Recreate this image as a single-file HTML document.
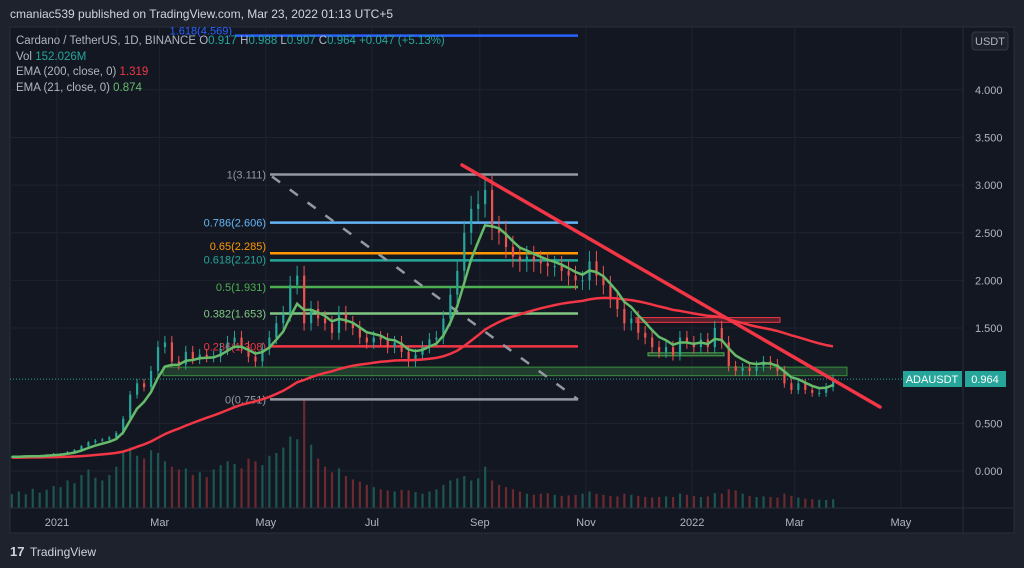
<!DOCTYPE html>
<html><head><meta charset="utf-8"><style>
html,body{margin:0;padding:0;background:#1e222d;}
svg{display:block;font-family:"Liberation Sans",sans-serif;}
</style></head><body>
<svg id="chart" width="1024" height="568" viewBox="0 0 1024 568" xmlns="http://www.w3.org/2000/svg">
<rect x="0" y="0" width="1024" height="568" fill="#1e222d"/>
<rect x="10" y="27" width="1004" height="506" fill="#131722" stroke="#2a2e39"/>
<text x="10" y="18" font-size="12" fill="#d1d4dc">cmaniac539 published on TradingView.com, Mar 23, 2022 01:13 UTC+5</text>
<defs><clipPath id="plotclip"><rect x="10" y="27" width="953" height="481"/></clipPath></defs>
<g id="grid"></g>
<g id="vol" clip-path="url(#plotclip)"></g>
<g id="draw1" clip-path="url(#plotclip)"></g>
<g id="candles" clip-path="url(#plotclip)"></g>
<g id="emas" clip-path="url(#plotclip)"></g>
<g id="draw2" clip-path="url(#plotclip)"></g>
<line x1="963" y1="27" x2="963" y2="533" stroke="#2a2e39"/>
<line x1="10" y1="508" x2="1014" y2="508" stroke="#2a2e39"/>
<g id="axes"></g>
<g font-size="11.5">
<text x="16" y="44" fill="#b2b5be">Cardano / TetherUS, 1D, BINANCE  O<tspan fill="#26a69a">0.917</tspan>  H<tspan fill="#26a69a">0.988</tspan>  L<tspan fill="#26a69a">0.907</tspan>  C<tspan fill="#26a69a">0.964</tspan>  <tspan fill="#26a69a">+0.047 (+5.13%)</tspan></text>
<text x="16" y="60" fill="#b2b5be">Vol  <tspan fill="#26a69a">152.026M</tspan></text>
<text x="16" y="75" fill="#b2b5be">EMA (200, close, 0)  <tspan fill="#f23645">1.319</tspan></text>
<text x="16" y="91" fill="#b2b5be">EMA (21, close, 0)  <tspan fill="#66bb6a">0.874</tspan></text>
</g>
<rect x="972" y="32" width="36" height="18" rx="3" fill="#1e222d" stroke="#363a45"/>
<text x="990" y="45" font-size="11" fill="#b2b5be" text-anchor="middle">USDT</text>
<rect x="903" y="371" width="59" height="16" fill="#26a69a"/>
<text x="932" y="383" font-size="11" fill="#fff" text-anchor="middle">ADAUSDT</text>
<rect x="965" y="371" width="41" height="16" fill="#26a69a"/>
<text x="985" y="383" font-size="11" fill="#fff" text-anchor="middle">0.964</text>
<g>
<text x="10" y="556" font-size="13" font-weight="bold" fill="#d1d4dc">17</text>
<text x="30" y="556" font-size="12" fill="#d1d4dc">TradingView</text>
</g>
</svg>
<script>
const closes=[0.15,0.15,0.16,0.16,0.16,0.17,0.18,0.18,0.20,0.22,0.26,0.30,0.32,0.33,0.35,0.40,0.55,0.80,0.92,0.88,1.05,1.30,1.35,1.15,1.12,1.25,1.18,1.22,1.20,1.20,1.28,1.35,1.40,1.30,1.20,1.15,1.28,1.40,1.55,1.65,1.95,2.05,1.55,1.70,1.60,1.55,1.45,1.65,1.55,1.50,1.40,1.35,1.40,1.38,1.30,1.35,1.25,1.15,1.22,1.30,1.38,1.40,1.60,1.85,2.10,2.50,2.75,2.80,2.95,2.55,2.50,2.35,2.25,2.20,2.25,2.20,2.18,2.15,2.15,2.10,2.05,2.00,2.00,2.20,2.05,1.95,1.80,1.70,1.55,1.60,1.45,1.40,1.30,1.25,1.30,1.22,1.40,1.35,1.30,1.38,1.30,1.50,1.35,1.10,1.05,1.08,1.05,1.10,1.15,1.12,1.05,0.92,0.85,0.92,0.85,0.82,0.82,0.88,0.964];
const volumes=[250,300,250,350,280,330,400,380,500,450,600,700,550,500,600,750,1000,1100,950,900,1050,1000,850,750,700,720,600,650,560,700,780,850,800,720,900,850,780,950,1000,1100,1300,1250,2000,1150,900,750,650,720,580,520,480,420,380,340,320,300,330,320,290,260,300,340,420,500,540,580,500,540,750,500,420,380,340,300,260,240,260,270,240,220,230,240,260,300,260,240,220,210,260,240,220,200,190,200,210,200,260,240,220,200,210,270,260,340,320,260,220,200,210,200,190,260,220,190,170,160,150,145,160];
const yTicks=[0,0.5,1.5,2,2.5,3,3.5,4];
const yTickLabels=["0.000","0.500","1.500","2.000","2.500","3.000","3.500","4.000"];
const monthDays=[0,59,120,181,243,304,365,424,485];
const monthLabels=["2021","Mar","May","Jul","Sep","Nov","2022","Mar","May"];
const fibPrices=[3.111,2.606,2.285,2.210,1.931,1.653,1.308,0.751];
const fibLabels=["1(3.111)","0.786(2.606)","0.65(2.285)","0.618(2.210)","0.5(1.931)","0.382(1.653)","0.236(1.308)","0(0.751)"];
const fibColors=["#9598a1","#64b5f6","#ff9800","#26a69a","#4caf50","#81c784","#f23645","#9598a1"];
const startDay=-26, stepDays=4;

const NS="http://www.w3.org/2000/svg";
function X(day){return 57+day*1.74;}
function Y(p){return 471-p*95.3;}
function mk(parent,tag,attrs){const e=document.createElementNS(NS,tag);for(const k in attrs)e.setAttribute(k,attrs[k]);document.getElementById(parent).appendChild(e);return e;}

yTicks.forEach((p,i)=>{
  const g=mk('grid','line',{x1:10,x2:963,y1:Y(p),y2:Y(p),stroke:'#1f2330'});
  
  
  const t=mk('axes','text',{x:975,y:Y(p)+4,'font-size':11,fill:'#b2b5be'});
  
  
  t.textContent=yTickLabels[i];
});
monthDays.forEach((d,i)=>{
  const g=mk('grid','line',{x1:X(d),x2:X(d),y1:27,y2:508,stroke:'#1f2330'});
  
  
  const t=mk('axes','text',{x:X(d),y:526,'font-size':11,fill:'#b2b5be','text-anchor':'middle'});
  
  
  t.textContent=monthLabels[i];
});

const vmax=Math.max(...volumes);
volumes.forEach((v,i)=>{
  const up=i===0||closes[i]>=closes[i-1];
  const h=v/vmax*110;
  const r=mk('vol','rect',{x:X(startDay+i*stepDays)-1,y:508-h,width:2.2,height:h,fill:up?'#1d5550':'#6b2a2f'});
  
  
});

const bz=mk('draw1','rect',{x:163,y:Y(1.09),width:684,height:Y(1.0)-Y(1.09),fill:'rgba(76,175,80,0.25)',stroke:'#388e3c'});


const rz=mk('draw1','rect',{x:636,y:Y(1.61),width:144,height:Y(1.56)-Y(1.61),fill:'rgba(242,54,69,0.3)',stroke:'#f23645'});


const gz=mk('draw1','rect',{x:648,y:Y(1.24),width:76,height:3,fill:'rgba(76,175,80,0.3)',stroke:'#4caf50'});


const dl=mk('draw1','line',{x1:10,x2:963,y1:Y(0.964),y2:Y(0.964),stroke:'#26a69a','stroke-dasharray':'1 2'});


fibPrices.forEach((p,i)=>{
  const l=mk('draw1','line',{x1:270,x2:578,y1:Y(p),y2:Y(p),stroke:fibColors[i],'stroke-width':2.5});
  
  
  const t=mk('draw1','text',{x:266,y:Y(p)+(i===2?-3:(i===3?3:4)),'font-size':11,fill:fibColors[i],'text-anchor':'end'});
  
  
  t.textContent=fibLabels[i];
});
const ext=mk('draw1','line',{x1:235,x2:578,y1:Y(4.569),y2:Y(4.569),stroke:'#2962ff','stroke-width':2.5});


const et=mk('draw1','text',{x:232,y:Y(4.569)-1,'font-size':11,fill:'#2962ff','text-anchor':'end'});


et.textContent='1.618(4.569)';
const fd=mk('draw1','line',{x1:272,y1:Y(3.111)+2,x2:578,y2:Y(0.751),stroke:'#9598a1','stroke-width':2.5,'stroke-dasharray':'10 12'});



closes.forEach((c,i)=>{
  const o=i===0?c:closes[i-1];
  const up=c>=o, col=up?'#26a69a':'#ef5350';
  const x=X(startDay+i*stepDays);
  const hi=Math.max(o,c)*1.05, lo=Math.min(o,c)*0.95;
  const w=mk('candles','line',{x1:x,x2:x,y1:Y(hi),y2:Y(lo),stroke:col,'stroke-width':1});
  
  
  const b=mk('candles','rect',{x:x-1,y:Y(Math.max(o,c)),width:2.2,height:Math.max(1,Math.abs(Y(o)-Y(c))),fill:col});
  
  
});

function ema(period,seed){const a=1-Math.pow(1-2/(period+1),stepDays);let e=seed;return closes.map(c=>{e=e+a*(c-e);return e;});}
const e200=ema(200,0.14), e21=ema(21,0.15);
function path(arr){return arr.map((v,i)=>(i?'L':'M')+X(startDay+i*stepDays).toFixed(1)+' '+Y(v).toFixed(1)).join(' ');}
const p200=mk('emas','path',{d:path(e200),fill:'none',stroke:'#f23645','stroke-width':2.5});


const p21=mk('emas','path',{d:path(e21),fill:'none',stroke:'#66bb6a','stroke-width':2.5});



const tl=mk('draw2','line',{x1:462,y1:165,x2:880,y2:407,stroke:'#f23645','stroke-width':3.5,'stroke-linecap':'round'});


</script>
</body></html>
